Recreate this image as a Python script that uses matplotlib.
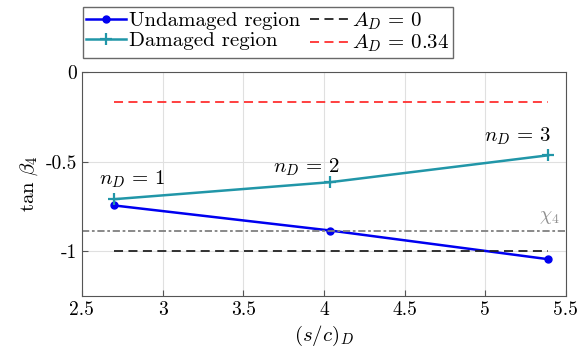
import matplotlib
matplotlib.use('Agg')
import matplotlib.pyplot as plt

plt.rcParams['font.family'] = 'cmr10'
plt.rcParams['mathtext.fontset'] = 'cm'
plt.rcParams['axes.unicode_minus'] = False
plt.rcParams['axes.formatter.use_mathtext'] = True

# data
sc = [2.70, 4.04, 5.39]
undamaged = [-0.745, -0.885, -1.045]
damaged = [-0.71, -0.615, -0.465]
ad0_x = [2.70, 5.39]
ad0_y = [-1.0, -1.0]
ad034_x = [2.70, 5.39]
ad034_y = [-0.17, -0.17]
chi_x = [2.5, 5.5]
chi_y = [-0.89, -0.89]
nd_labels = [r'$n_D\,=\,1$', r'$n_D\,=\,2$', r'$n_D\,=\,3$']
nd_pos = [(2.81, -0.60), (3.89, -0.53), (5.20, -0.36)]

fig = plt.figure(figsize=(5.81, 3.6), dpi=100)
ax = fig.add_axes([0.141, 0.178, 0.833, 0.622])

l1, = ax.plot(sc, undamaged, '-o', color='#0000f0', lw=1.8, ms=5, label='Undamaged region')
l2, = ax.plot(sc, damaged, '-+', color='#2196a8', lw=1.8, ms=9, mew=1.6, label='Damaged region')
l3, = ax.plot(ad0_x, ad0_y, '--', color='#222222', lw=1.3, dashes=(5, 3), label=r'$A_D\,=\,0$')
l4, = ax.plot(ad034_x, ad034_y, '--', color='#ff3030', lw=1.3, dashes=(5, 3), label=r'$A_D\,=\,0.34$')
ax.plot(chi_x, chi_y, color='#808080', lw=1.3, dashes=(4, 1.5, 1.5, 1.5))

for lab, (x, y) in zip(nd_labels, nd_pos):
    ax.text(x, y, lab, ha='center', va='center', fontsize=15)
ax.text(5.40, -0.81, r'$\chi_4$', color='#909090', fontsize=14, ha='center', va='center')

ax.set_xlim(2.5, 5.5)
ax.set_ylim(-1.25, 0)
ax.set_xticks([2.5, 3, 3.5, 4, 4.5, 5, 5.5])
ax.set_xticklabels(['2.5', '3', '3.5', '4', '4.5', '5', '5.5'])
ax.set_yticks([-1, -0.5, 0])
ax.set_yticklabels(['-1', '-0.5', '0'])
ax.tick_params(labelsize=14, direction='in', length=4, color='#555555')
ax.grid(True, color='#e0e0e0', lw=0.8)
for s in ax.spines.values():
    s.set_color('#555555')
ax.set_xlabel('$(s/c)_D$', fontsize=15)
ax.set_ylabel(r'$\tan\,\beta_4$', fontsize=15)

fig.legend(handles=[l1, l2, l3, l4], ncol=2, loc='upper left',
           bbox_to_anchor=(0.143, 0.98), fontsize=15, frameon=True, fancybox=False,
           edgecolor='#444444', handlelength=1.9, handletextpad=0.15,
           columnspacing=0.45, labelspacing=0.05, borderpad=0.15, borderaxespad=0)

fig.savefig('out.png', dpi=100)
